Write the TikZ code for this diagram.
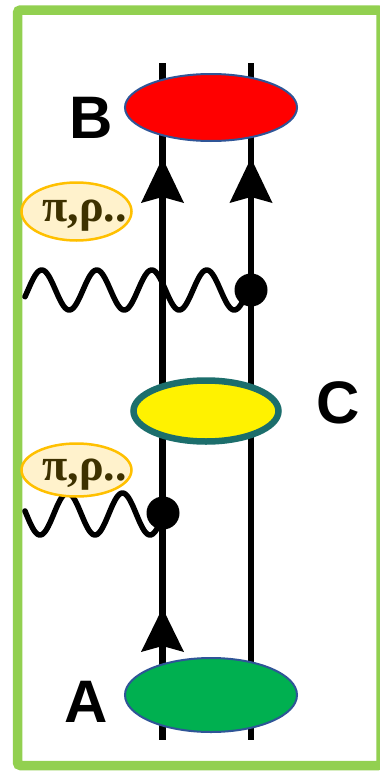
\documentclass[tikz,border=0pt]{standalone}
\usepackage{fontspec}
\setmainfont{Liberation Sans}
\newfontfamily\greekserif{Liberation Serif}
\usetikzlibrary{shapes.geometric}
\definecolor{frameg}{HTML}{92D050}
\definecolor{edgeblue}{HTML}{2F5597}
\definecolor{edgeteal}{HTML}{1C6E6C}
\definecolor{mesonfill}{HTML}{FFF2CC}
\definecolor{mesonedge}{HTML}{FFC000}
\definecolor{mesontext}{HTML}{3D3100}
\definecolor{agreen}{HTML}{00B050}
\begin{document}
\begin{tikzpicture}[x=1pt,y=-1pt,
  quark/.style={line width=6.5pt,black},
  gluon/.style={line width=5.5pt,black,line join=round,line cap=round},
  vtx/.style={circle,fill=black,minimum size=33pt,inner sep=0pt},
  hadron/.style={ellipse,inner sep=0pt,line width=2pt,draw=edgeblue},
  meson/.style={ellipse,inner sep=0pt,line width=2.5pt,draw=mesonedge,fill=mesonfill,minimum width=110pt},
  mesonlabel/.style={anchor=base,text=mesontext,font=\greekserif\bfseries\fontsize{46}{50}\selectfont},
  biglabel/.style={anchor=base,font=\bfseries\fontsize{60}{62}\selectfont},
  arrowtip/.style={fill=black}]
\useasboundingbox (0,0) rectangle (380,771);
\fill[white] (0,0) rectangle (380,771);
% frame
\draw[frameg,line width=9.5pt,rounded corners=3pt] (17.5,10) rectangle (381,765.5);
% quark lines
\coordinate (Lt) at (162.5,63);
\coordinate (Lb) at (162.5,740);
\coordinate (Rt) at (251,63);
\coordinate (Rb) at (251,740);
\draw[quark] (Lt) -- (Lb);
\draw[quark] (Rt) -- (Rb);
% arrows
\fill[arrowtip] (162.5,158) -- (141,203) -- (162.5,197) -- (184,203) -- cycle;
\fill[arrowtip] (251,158) -- (229.5,203) -- (251,197) -- (272.5,203) -- cycle;
\fill[arrowtip] (162.5,608) -- (141,652) -- (162.5,646) -- (184,652) -- cycle;
% gluon / meson lines
\draw[gluon] plot[domain=25:250,samples=240,smooth] (\x,{290-20*sin(6.54545*(\x-28))});
\draw[gluon] plot[domain=25:162,samples=160,smooth] (\x,{514+21*sin(6.54545*(\x-26.25))});
% vertices
\node[vtx] (v1) at (251,290) {};
\node[vtx] (v2) at (163,513) {};
% hadrons
\node[hadron,fill=red,minimum width=172pt,minimum height=67pt] (B) at (211,107.5) {};
\node[ellipse,inner sep=0pt,line width=6.5pt,draw=edgeteal,fill=yellow,minimum width=145pt,minimum height=61pt] (C) at (206,411) {};
\node[hadron,fill=agreen,minimum width=172pt,minimum height=74pt] (A) at (211,695) {};
% meson bubbles
\node[meson,minimum height=58pt] (m1) at (76.5,211.5) {};
\node[meson,minimum height=53pt] (m2) at (76.5,470) {};
\node[mesonlabel] (t1) at (84.5,221) {π,ρ..};
\node[mesonlabel] (t2) at (84.5,480) {π,ρ..};
% labels
\node[biglabel] (lB) at (91,138) {B};
\node[biglabel] (lC) at (338.5,423) {C};
\node[biglabel] (lA) at (86.5,722) {A};
\end{tikzpicture}
\end{document}
